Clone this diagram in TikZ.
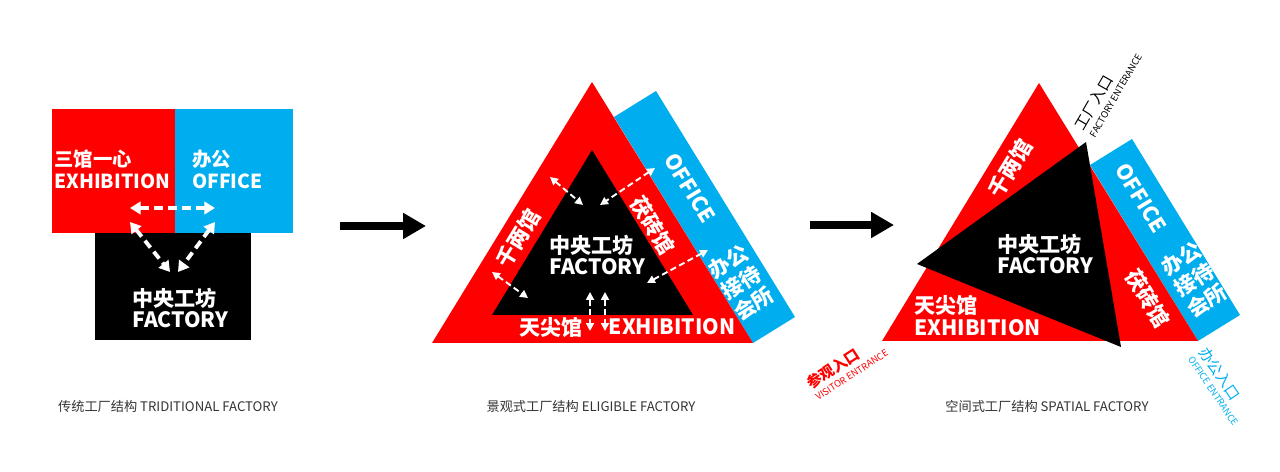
\documentclass[tikz,border=0pt]{standalone}
\usepackage{fontspec}
\setmainfont{Noto Sans CJK SC}
\usetikzlibrary{arrows.meta}
\definecolor{fred}{RGB}{255,0,0}
\definecolor{fblue}{RGB}{0,174,239}
\newcommand{\entxt}{\fontsize{5.3}{6}\selectfont}
\tikzset{
  lbl/.style={text=white, inner sep=0pt, align=left, font=\bfseries\fontsize{12}{12.5}\selectfont},
  lblsm/.style={lbl, font=\bfseries\fontsize{11}{12.5}\selectfont},
  block/.style={lbl, align=center, font=\bfseries\fontsize{12}{14}\selectfont},
  wdash/.style={draw=white, line width=2.2pt, dash pattern=on 5pt off 3pt, {Triangle[length=6pt,width=7pt]}-{Triangle[length=6pt,width=7pt]}},
  wthin/.style={draw=white, line width=1.1pt, dash pattern=on 3.5pt off 2pt, {Triangle[length=4.5pt,width=4.5pt]}-{Triangle[length=4.5pt,width=4.5pt]}},
  bigarrow/.style={draw=black, line width=4.5pt, -{Triangle[length=13pt,width=14pt]}},
  caption/.style={text=black!80, inner sep=0pt, font=\fontsize{7.5}{9}\selectfont},
  entr/.style={inner sep=0pt, align=left, anchor=west, font=\fontsize{8.5}{7.5}\selectfont}
}
\begin{document}
\begin{tikzpicture}[x=0.02cm,y=-0.02cm]
\useasboundingbox (0,0) rectangle (1280,472);

% traditional factory
\fill[fred] (52,109) rectangle (175,233);
\fill[fblue] (175,109) rectangle (293,233);
\fill[black] (95,233) rectangle (251,340);
\node[lblsm, anchor=west] (exh1) at (54,169) {三馆一心\\EXHIBITION};
\node[lblsm, anchor=west] (off1) at (192,169) {办公\\OFFICE};
\node[lbl, anchor=west] (fac1) at (132,308) {中央工坊\\FACTORY};
\coordinate (h1) at (130,208);
\coordinate (h2) at (215,208);
\coordinate (d1) at (130,222);
\coordinate (d2) at (215,222);
\coordinate (f1) at (170,272);
\coordinate (f2) at (178,272);
\path[wdash] (h1) -- (h2);
\path[wdash] (d1) -- (f1);
\path[wdash] (d2) -- (f2);
\node[caption] (cap1) at (168,406) {传统工厂结构 TRIDITIONAL FACTORY};

\coordinate (ar1) at (340,226);
\coordinate (ar2) at (426,226);
\path[bigarrow] (ar1) -- (ar2);

% eligible factory
\fill[fblue] (614,117) -- (656,91) -- (795,317) -- (753,343) -- cycle;
\fill[fred] (592,82) -- (753,343) -- (432,343) -- cycle;
\fill[black] (592,150) -- (693,315) -- (492,315) -- cycle;
\node[lbl, anchor=west] (fac2) at (549,255) {中央工坊\\FACTORY};
\node[lbl] (tj2) at (551,327) {天尖馆};
\node[lbl] (exh2) at (672,327) {EXHIBITION};
\node[lbl, rotate=58.5] (ql2) at (518,238) {千两馆};
\node[lbl, rotate=-58.5] (fz2) at (653,225) {茯砖馆};
\node[lbl, rotate=-58.5] (off2) at (690,188) {OFFICE};
\node[block, rotate=31.5] (rec2) at (741,283) {办公\\接待\\会所};
\coordinate (a1) at (550,177);
\coordinate (b1) at (583,205);
\coordinate (a2) at (655,168);
\coordinate (b2) at (600,205);
\coordinate (a3) at (492,272);
\coordinate (b3) at (528,298);
\coordinate (a4) at (708,250);
\coordinate (b4) at (647,283);
\coordinate (v1) at (590,292);
\coordinate (w1) at (590,331);
\coordinate (v2) at (605,292);
\coordinate (w2) at (605,331);
\path[wthin] (a1) -- (b1);
\path[wthin] (a2) -- (b2);
\path[wthin] (a3) -- (b3);
\path[wthin] (a4) -- (b4);
\path[wthin] (v1) -- (w1);
\path[wthin] (v2) -- (w2);
\node[caption] (cap2) at (591,406) {景观式工厂结构 ELIGIBLE FACTORY};

\coordinate (ar3) at (810,225);
\coordinate (ar4) at (894,225);
\path[bigarrow] (ar3) -- (ar4);

% spatial factory
\fill[fblue] (1090,165) -- (1132,139) -- (1240,315) -- (1198,341) -- cycle;
\fill[fred] (1039,83) -- (1198,341) -- (882,341) -- cycle;
\fill[black] (1086,142) -- (1121,347) -- (917,264) -- cycle;
\node[lbl, anchor=west] (fac3) at (997,254) {中央工坊\\FACTORY};
\node[lbl, anchor=west] (exh3) at (914,316) {天尖馆\\EXHIBITION};
\node[lbl, rotate=58.5] (ql3) at (1010,168) {千两馆};
\node[lbl, rotate=-58.5] (fz3) at (1148,298) {茯砖馆};
\node[lbl, rotate=-58.5] (off3) at (1141,198) {OFFICE};
\node[block, rotate=31.5] (rec3) at (1194,280) {办公\\接待\\会所};
\node[entr, rotate=60] (in1) at (1084,132) {工厂入口\\{\entxt FACTORY ENTERANCE}};
\node[entr, rotate=33, text=fred] (in2) at (811,390) {\bfseries 参观入口\\{\entxt VISITOR ENTRANCE}};
\node[entr, rotate=-56, text=fblue] (in3) at (1198,352) {办公入口\\{\entxt OFFICE ENTRANCE}};
\node[caption] (cap3) at (1047,406) {空间式工厂结构 SPATIAL FACTORY};
\end{tikzpicture}
\end{document}
